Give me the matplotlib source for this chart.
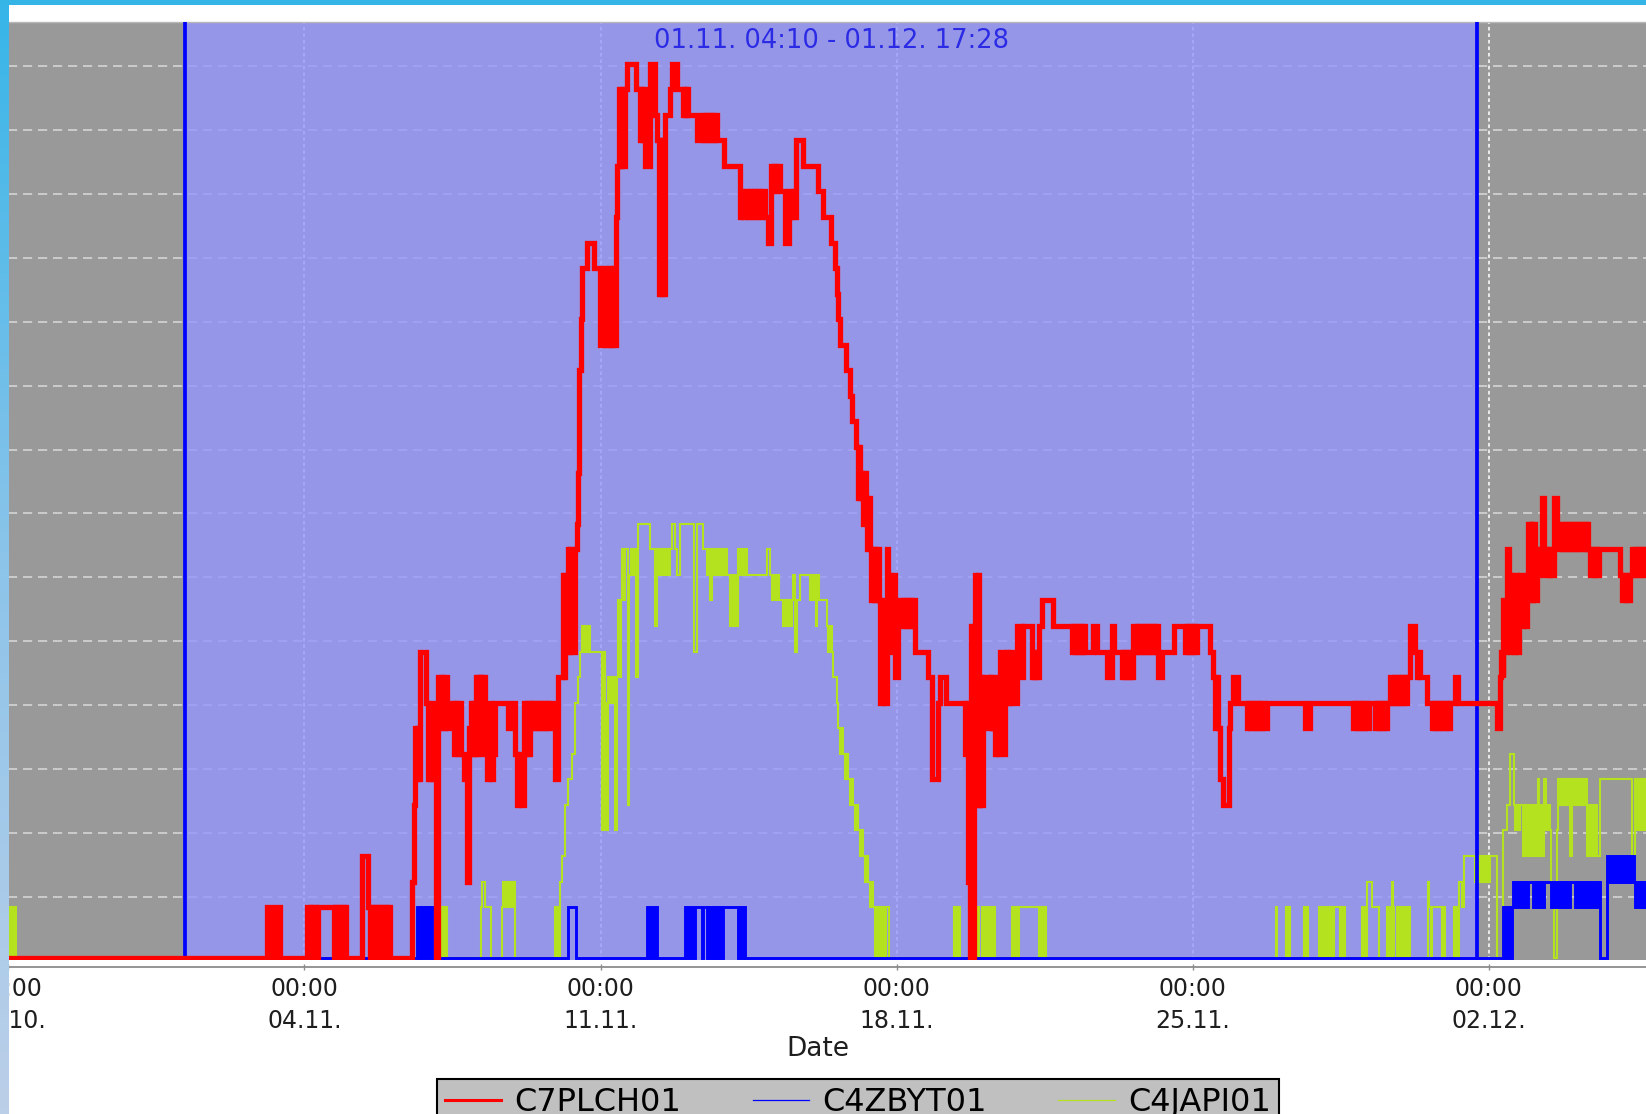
import numpy as np
import matplotlib
matplotlib.use('Agg')
import matplotlib.pyplot as plt
import matplotlib.transforms as mtransforms
from matplotlib.lines import Line2D
from matplotlib.patches import Rectangle
from matplotlib.colors import LinearSegmentedColormap

# time is counted in days from 28.10. 00:00, values are step levels
red_pts = [
    (0.00, 0), (6.11, 2), (6.21, 0), (6.33, 2), (6.43, 0),
    (7.07, 2), (7.11, 0), (7.15, 2), (7.19, 0), (7.23, 2), (7.27, 0), (7.31, 2),
    (7.69, 0), (7.73, 2), (7.77, 0), (7.81, 2), (7.85, 0), (7.89, 2), (7.93, 0), (7.96, 2), (7.99, 0),
    (8.36, 4), (8.51, 2), (8.55, 0), (8.59, 2), (8.63, 0), (8.67, 2), (8.71, 0), (8.75, 2), (8.79, 0),
    (8.83, 2), (8.87, 0), (8.91, 2), (8.95, 0), (8.99, 2), (9.03, 0),
    (9.54, 3), (9.58, 6), (9.62, 9), (9.65, 7), (9.68, 9), (9.71, 7), (9.74, 12), (9.88, 10), (9.92, 7),
    (9.95, 9), (9.98, 7), (10.02, 10), (10.06, 7), (10.10, 0),
    (10.16, 11), (10.20, 9), (10.24, 11), (10.28, 9), (10.32, 11), (10.36, 9), (10.49, 10), (10.53, 8),
    (10.57, 10), (10.61, 8), (10.65, 10), (10.69, 8), (10.78, 7), (10.84, 3), (10.90, 9),
    (10.93, 10), (10.96, 8), (10.99, 10), (11.02, 8), (11.05, 11), (11.08, 8), (11.11, 11), (11.14, 9),
    (11.17, 11), (11.20, 8), (11.23, 11), (11.27, 9), (11.31, 7), (11.36, 10), (11.40, 7), (11.46, 8), (11.51, 10),
    (11.82, 9), (11.94, 10), (11.98, 8), (12.02, 6), (12.08, 8), (12.12, 6), (12.18, 10), (12.22, 8),
    (12.26, 10), (12.30, 8), (12.34, 10), (12.37, 9), (12.41, 10), (12.45, 9), (12.49, 10), (12.53, 9),
    (12.57, 10), (12.61, 9), (12.65, 10), (12.69, 9), (12.73, 10), (12.77, 9), (12.81, 10),
    (12.93, 7), (13.00, 11), (13.11, 15), (13.14, 11), (13.17, 15), (13.20, 12), (13.23, 16), (13.26, 12),
    (13.29, 16), (13.32, 14), (13.35, 12), (13.40, 16), (13.44, 17), (13.46, 19), (13.48, 21), (13.50, 23),
    (13.53, 25), (13.57, 27),
    (13.68, 28), (13.84, 27), (13.99, 24), (14.09, 27), (14.14, 24), (14.19, 27), (14.23, 24), (14.28, 27),
    (14.32, 24), (14.36, 29), (14.40, 31), (14.44, 34), (14.47, 31), (14.50, 34), (14.54, 31), (14.58, 34), (14.62, 35),
    (14.85, 34), (14.93, 32), (14.96, 34), (14.99, 32), (15.02, 34), (15.05, 31), (15.17, 35), (15.30, 33),
    (15.34, 32), (15.38, 26), (15.41, 32), (15.44, 26), (15.47, 32), (15.50, 26), (15.52, 33), (15.64, 34),
    (15.68, 35), (15.80, 34),
    (15.95, 33), (15.98, 34), (16.01, 33), (16.04, 34), (16.08, 33), (16.27, 32), (16.39, 33), (16.43, 32),
    (16.47, 33), (16.51, 32), (16.55, 33), (16.59, 32), (16.63, 33), (16.67, 32), (16.71, 33), (16.75, 32), (16.93, 31),
    (17.29, 29), (17.33, 30), (17.38, 29), (17.43, 30), (17.48, 29), (17.53, 30), (17.58, 29), (17.63, 30),
    (17.68, 29), (17.73, 30), (17.78, 29), (17.83, 30), (17.88, 29), (17.95, 28), (18.02, 31), (18.06, 30),
    (18.10, 31), (18.14, 30), (18.18, 31), (18.24, 30), (18.36, 28), (18.46, 30), (18.50, 29), (18.54, 30),
    (18.58, 29), (18.63, 32), (18.79, 31),
    (19.15, 30), (19.27, 29), (19.45, 28), (19.55, 27), (19.58, 26), (19.62, 25), (19.66, 24), (19.80, 23),
    (19.90, 22), (19.95, 21), (20.05, 20), (20.08, 18), (20.11, 20), (20.14, 18), (20.18, 19), (20.21, 17),
    (20.24, 19), (20.28, 18), (20.31, 16), (20.34, 18),
    (20.37, 16), (20.40, 14), (20.43, 16), (20.46, 14), (20.49, 16), (20.52, 14), (20.55, 16), (20.58, 14),
    (20.61, 10), (20.67, 14), (20.70, 10), (20.77, 16), (20.80, 14), (20.85, 15), (20.88, 12), (20.92, 15),
    (20.96, 11), (21.04, 14),
    (21.12, 13), (21.16, 14), (21.20, 13), (21.24, 14), (21.28, 13), (21.32, 14), (21.36, 13), (21.40, 14),
    (21.44, 12), (21.75, 11), (21.83, 7), (21.99, 10), (22.03, 11), (22.18, 10),
    (22.62, 8), (22.65, 10), (22.68, 3), (22.71, 9), (22.74, 0), (22.77, 13), (22.80, 0), (22.83, 13),
    (22.86, 15), (22.89, 6), (22.92, 15), (22.95, 6), (22.98, 11), (23.01, 6), (23.05, 11),
    (23.17, 9), (23.20, 11), (23.23, 9), (23.26, 11), (23.29, 9), (23.33, 8), (23.37, 11), (23.41, 8),
    (23.45, 12), (23.53, 8), (23.57, 10), (23.60, 12), (23.64, 10), (23.68, 12), (23.72, 10), (23.84, 13),
    (23.96, 11), (24.00, 13), (24.20, 11), (24.23, 12), (24.26, 11), (24.29, 12), (24.32, 11), (24.36, 13),
    (24.43, 14), (24.71, 13),
    (25.14, 12), (25.18, 13), (25.22, 12), (25.26, 13), (25.30, 12), (25.34, 13), (25.38, 12), (25.42, 13),
    (25.46, 12), (25.65, 13), (25.73, 12), (25.97, 11), (26.09, 13), (26.13, 12),
    (26.32, 11), (26.36, 12), (26.40, 11), (26.44, 12), (26.48, 11), (26.52, 12), (26.56, 11), (26.60, 13),
    (26.64, 12), (26.68, 13), (26.72, 12), (26.76, 13), (26.80, 12), (26.84, 13), (26.88, 12), (26.92, 13),
    (26.96, 12), (27.00, 13), (27.04, 12), (27.08, 13), (27.12, 12), (27.16, 13), (27.19, 11), (27.27, 12), (27.55, 13),
    (27.82, 12), (27.86, 13), (27.90, 12), (27.94, 13), (27.98, 12), (28.02, 13), (28.06, 12), (28.10, 13),
    (28.41, 12), (28.48, 11), (28.52, 9), (28.56, 11), (28.60, 9), (28.65, 7), (28.73, 6), (28.85, 9),
    (28.89, 10), (28.96, 11), (29.08, 10),
    (29.28, 9), (29.32, 10), (29.36, 9), (29.40, 10), (29.44, 9), (29.48, 10), (29.52, 9), (29.56, 10),
    (29.60, 9), (29.64, 10), (29.68, 9), (29.75, 10), (30.66, 9), (30.78, 10),
    (31.80, 9), (31.84, 10), (31.88, 9), (31.92, 10), (31.96, 9), (32.00, 10), (32.04, 9), (32.08, 10),
    (32.12, 9), (32.16, 10), (32.32, 9), (32.36, 10), (32.40, 9), (32.44, 10), (32.48, 9), (32.52, 10),
    (32.56, 9), (32.59, 10),
    (32.67, 11), (32.71, 10), (32.75, 11), (32.79, 10), (32.83, 11), (32.87, 10), (32.91, 11), (32.95, 10),
    (32.99, 11), (33.03, 10), (33.07, 11), (33.14, 13), (33.26, 12), (33.30, 11), (33.34, 12), (33.38, 11), (33.54, 10),
    (33.66, 9), (33.70, 10), (33.74, 9), (33.78, 10), (33.82, 9), (33.86, 10), (33.90, 9), (33.94, 10),
    (33.98, 9), (34.02, 10), (34.06, 9), (34.09, 10), (34.21, 11), (34.28, 10), (35.19, 9),
    (35.27, 11), (35.30, 12), (35.33, 11), (35.35, 14), (35.39, 12), (35.43, 16), (35.47, 15), (35.50, 12),
    (35.53, 15), (35.56, 13), (35.59, 12), (35.63, 15), (35.67, 12), (35.71, 15), (35.75, 14), (35.78, 13),
    (35.81, 14), (35.84, 15), (35.88, 13), (35.91, 15),
    (35.94, 17), (35.97, 14), (36.00, 17), (36.03, 14), (36.06, 17), (36.10, 14), (36.14, 16), (36.18, 15),
    (36.22, 16), (36.26, 18), (36.30, 16), (36.34, 15), (36.38, 16), (36.42, 15), (36.46, 16), (36.50, 15), (36.54, 18),
    (36.61, 17), (36.65, 16), (36.69, 17), (36.73, 16), (36.77, 17), (36.81, 16), (36.85, 17), (36.89, 16),
    (36.93, 17), (36.97, 16), (37.01, 17), (37.05, 16), (37.09, 17), (37.13, 16), (37.17, 17), (37.21, 16),
    (37.25, 17), (37.29, 16), (37.33, 17), (37.36, 16),
    (37.40, 15), (37.44, 16), (37.48, 15), (37.52, 16), (37.56, 15), (37.60, 16), (38.11, 15), (38.15, 14),
    (38.19, 15), (38.23, 14), (38.27, 15), (38.31, 14), (38.35, 15), (38.39, 16), (38.43, 15), (38.47, 16),
    (38.51, 15), (38.55, 16), (38.59, 15), (38.63, 16), (38.67, 15), (38.71, 16), (38.75, 15),
]

blue_pts = [
    (0.00, 0),
    (9.66, 2), (9.70, 0), (9.73, 2), (9.76, 0), (9.79, 2), (9.83, 0), (9.86, 2), (9.90, 0), (9.93, 2),
    (9.97, 0), (10.00, 2), (10.05, 0),
    (13.24, 2), (13.42, 0),
    (15.09, 2), (15.13, 0), (15.17, 2), (15.21, 0), (15.25, 2), (15.29, 0), (15.31, 2), (15.33, 0),
    (16.00, 2), (16.04, 0), (16.08, 2), (16.12, 0), (16.16, 2), (16.20, 0), (16.23, 2), (16.40, 0),
    (16.43, 2), (16.51, 0), (16.54, 2), (16.57, 0), (16.60, 2), (16.63, 0), (16.66, 2), (16.69, 0),
    (16.72, 2), (16.75, 0), (16.78, 2), (16.81, 0), (16.84, 2), (16.87, 0), (16.90, 2), (17.26, 0),
    (17.30, 2), (17.34, 0), (17.38, 2), (17.42, 0),
    (35.35, 2), (35.38, 0), (35.41, 2), (35.45, 0), (35.48, 2), (35.52, 0), (35.55, 2), (35.58, 3),
    (35.61, 2), (35.64, 3), (35.67, 2), (35.70, 3), (35.73, 2), (35.76, 3), (35.79, 2), (35.82, 3),
    (35.85, 2), (35.88, 3), (35.91, 2), (35.94, 3), (36.05, 2), (36.08, 3), (36.11, 2), (36.14, 3),
    (36.17, 2), (36.20, 3), (36.23, 2), (36.26, 3), (36.29, 2), (36.32, 3), (36.47, 2), (36.50, 3),
    (36.53, 2), (36.56, 3), (36.59, 2), (36.62, 3), (36.65, 2), (36.68, 3), (36.71, 2), (36.74, 3),
    (36.77, 2), (36.80, 3), (36.83, 2), (36.86, 3), (36.89, 2), (36.92, 3), (37.03, 2), (37.06, 3),
    (37.09, 2), (37.12, 3), (37.15, 2), (37.18, 3), (37.21, 2), (37.24, 3), (37.27, 2), (37.30, 3),
    (37.33, 2), (37.36, 3), (37.39, 2), (37.42, 3), (37.45, 2), (37.48, 3), (37.51, 2), (37.54, 3),
    (37.57, 2), (37.60, 3), (37.64, 0),
    (37.80, 4), (37.83, 3), (37.86, 4), (37.89, 3), (37.92, 4), (37.95, 3), (37.98, 4), (38.01, 3),
    (38.04, 4), (38.07, 3), (38.10, 4), (38.13, 3), (38.16, 4), (38.19, 3), (38.22, 4), (38.25, 3),
    (38.28, 4), (38.31, 3), (38.34, 4), (38.37, 3), (38.40, 4), (38.43, 3), (38.46, 2), (38.49, 3),
    (38.52, 2), (38.55, 3), (38.58, 2), (38.61, 3), (38.64, 2), (38.67, 3), (38.70, 2), (38.75, 3),
]

green_pts = [
    (0.00, 0), (0.03, 2), (0.06, 0), (0.09, 2), (0.12, 0), (0.14, 2), (0.17, 0),
    (10.21, 2), (10.24, 0), (10.27, 2), (10.30, 0), (10.33, 2), (10.36, 0),
    (11.17, 2), (11.20, 3), (11.26, 2), (11.42, 0),
    (11.66, 2), (11.70, 3), (11.74, 2), (11.78, 3), (11.82, 2), (11.86, 3), (11.90, 2), (11.94, 3), (11.98, 0),
    (12.92, 2), (12.95, 0), (12.98, 2), (13.01, 0), (13.04, 3), (13.10, 4), (13.16, 6), (13.24, 7),
    (13.32, 8), (13.40, 10), (13.46, 11), (13.52, 12),
    (13.56, 13), (13.60, 12), (13.64, 13), (13.68, 12), (13.72, 13), (13.75, 12),
    (14.03, 5), (14.08, 12), (14.11, 10), (14.14, 5), (14.17, 11), (14.20, 10), (14.23, 11), (14.26, 10),
    (14.30, 11), (14.34, 5), (14.38, 11),
    (14.42, 14), (14.45, 11), (14.48, 14), (14.51, 16), (14.55, 14), (14.58, 16), (14.64, 6), (14.68, 15),
    (14.72, 16), (14.76, 15), (14.80, 16), (14.84, 11), (14.88, 17),
    (15.17, 16), (15.29, 13), (15.33, 16), (15.37, 15), (15.41, 16), (15.45, 15), (15.49, 16), (15.53, 15),
    (15.57, 16), (15.61, 15), (15.65, 16), (15.68, 17), (15.75, 16), (15.80, 15), (15.88, 17),
    (16.20, 12), (16.27, 17), (16.43, 16), (16.51, 15), (16.55, 16), (16.59, 14), (16.63, 16), (16.67, 15),
    (16.71, 16), (16.75, 15), (16.79, 16), (16.83, 15), (16.87, 16), (16.91, 15), (16.95, 16), (17.00, 15),
    (17.06, 13), (17.10, 15), (17.14, 13), (17.18, 15), (17.22, 13), (17.26, 16), (17.30, 15), (17.34, 16),
    (17.38, 15), (17.42, 16), (17.46, 15), (17.93, 16), (18.01, 15),
    (18.05, 14), (18.09, 15), (18.13, 14), (18.17, 15), (18.21, 14), (18.32, 13), (18.36, 14), (18.40, 13),
    (18.44, 14), (18.48, 13), (18.52, 14), (18.56, 15), (18.60, 12), (18.64, 14), (18.71, 15),
    (18.95, 14), (18.99, 15), (19.03, 14), (19.07, 15), (19.09, 13), (19.13, 15), (19.17, 14), (19.35, 13),
    (19.39, 12), (19.43, 13), (19.47, 12), (19.50, 11),
    (19.58, 10), (19.62, 9), (19.66, 8), (19.70, 9), (19.74, 8), (19.78, 7), (19.82, 8), (19.86, 7),
    (19.90, 6), (19.94, 7), (19.98, 6), (20.02, 5), (20.06, 6), (20.10, 5), (20.14, 4), (20.18, 5),
    (20.21, 4), (20.25, 3), (20.29, 4), (20.33, 3), (20.37, 2), (20.41, 3), (20.45, 2),
    (20.49, 0), (20.52, 2), (20.56, 0), (20.60, 2), (20.64, 0), (20.68, 2), (20.72, 0), (20.76, 2), (20.81, 0),
    (22.35, 2), (22.38, 0), (22.41, 2), (22.44, 0), (22.47, 2), (22.49, 0),
    (22.86, 2), (22.89, 0), (22.92, 2), (22.95, 0), (23.01, 2), (23.04, 0), (23.07, 2), (23.10, 0),
    (23.13, 2), (23.16, 0), (23.19, 2), (23.22, 0), (23.25, 2), (23.28, 0), (23.31, 2), (23.33, 0),
    (23.72, 2), (23.75, 0), (23.78, 2), (23.81, 0), (23.84, 2), (23.87, 0), (23.90, 2), (24.36, 0),
    (24.39, 2), (24.42, 0), (24.45, 2), (24.49, 0), (24.52, 2), (24.54, 0),
    (29.97, 2), (30.00, 0), (30.20, 2), (30.23, 0), (30.26, 2), (30.30, 0), (30.64, 2), (30.68, 0),
    (30.70, 2), (30.73, 0),
    (30.98, 2), (31.01, 0), (31.04, 2), (31.07, 0), (31.10, 2), (31.13, 0), (31.16, 2), (31.19, 0),
    (31.22, 2), (31.25, 0), (31.28, 2), (31.31, 0), (31.34, 2), (31.49, 0), (31.52, 2), (31.55, 0),
    (31.58, 2), (31.61, 0),
    (32.00, 2), (32.03, 0), (32.06, 2), (32.09, 0), (32.12, 3), (32.24, 2), (32.40, 0),
    (32.59, 2), (32.62, 0), (32.65, 2), (32.68, 0), (32.71, 3), (32.74, 2), (32.77, 0), (32.84, 2),
    (32.87, 0), (32.90, 2), (32.93, 0), (32.98, 2), (33.01, 0), (33.04, 2), (33.07, 0), (33.11, 2), (33.14, 0),
    (33.56, 3), (33.60, 2), (33.63, 0), (33.66, 2), (33.90, 0), (33.93, 2), (33.96, 0),
    (34.18, 2), (34.21, 0), (34.24, 2), (34.27, 0), (34.30, 3), (34.37, 2), (34.41, 4), (34.68, 3),
    (34.72, 4), (34.76, 3), (34.80, 4), (34.84, 3), (34.88, 4), (34.92, 3), (34.96, 4), (34.99, 3),
    (35.03, 4), (35.19, 0),
    (35.35, 5), (35.43, 6), (35.51, 8), (35.59, 6), (35.63, 5), (35.67, 6), (35.71, 5), (35.75, 6),
    (35.80, 4), (35.84, 6), (35.88, 4), (35.92, 6), (35.96, 4), (36.00, 6), (36.04, 4), (36.08, 6),
    (36.12, 4), (36.16, 7), (36.20, 4), (36.24, 6), (36.28, 4), (36.32, 7), (36.36, 5), (36.40, 6),
    (36.44, 5), (36.48, 2), (36.54, 0),
    (36.61, 5), (36.65, 7), (36.69, 6), (36.73, 7), (36.77, 6), (36.81, 7), (36.85, 6), (36.89, 7),
    (36.93, 4), (36.97, 7), (37.01, 6), (37.05, 7), (37.09, 6), (37.13, 7), (37.17, 6), (37.21, 7),
    (37.25, 6), (37.29, 7), (37.33, 4), (37.37, 6), (37.41, 4), (37.45, 6), (37.49, 4), (37.53, 6),
    (37.57, 4), (37.64, 7), (38.39, 4), (38.47, 7), (38.51, 5), (38.55, 7), (38.59, 5), (38.63, 7),
    (38.67, 5), (38.71, 7), (38.75, 5),
]

series_names = ['C7PLCH01', 'C4ZBYT01', 'C4JAPI01']
series_colors = ['#ff0000', '#0000ff', '#b4e21e']

tick_days = [0, 7, 14, 21, 28, 35]
tick_times = ['00:00', '00:00', '00:00', '00:00', '00:00', '00:00']
tick_dates = ['28.10.', '04.11.', '11.11.', '18.11.', '25.11.', '02.12.']

interval_start = 4 + 4 / 24 + 10 / 1440     # 01.11. 04:10
interval_end = 34 + 17 / 24 + 28 / 1440      # 01.12. 17:28
interval_label = '01.11. 04:10 - 01.12. 17:28'
x_end = 38.72

plt.rcParams['font.family'] = 'DejaVu Sans'

W, H = 1646, 1114
fig = plt.figure(figsize=(W / 100, H / 100), dpi=100)
fig.patch.set_facecolor('white')

# plot area (pixel layout of the screenshot)
ax = fig.add_axes([8.4 / W, (H - 959.5) / H, 1 - 8.4 / W, 937.5 / H])
ax.set_facecolor('#999999')
ax.set_xlim(0, x_end)
ax.set_ylim(-0.05, 36.63)

# grid lines sit under the interval marker
ax.set_axisbelow(True)
ax.set_yticks([2.4 + 2.5 * k for k in range(14)])
ax.tick_params(axis='y', left=False, labelleft=False)
ax.grid(axis='y', color='#d4d4d4', lw=1.2, ls=(0, (5.5, 3.5)))
ax.grid(axis='x', color='#f2f2f2', lw=1.3, ls=(0, (2, 1.6)))

ax.axvspan(interval_start, interval_end, color=(150 / 255, 150 / 255, 253 / 255),
           alpha=0.8, lw=0, zorder=1)
for xv in (interval_start, interval_end):
    ax.axvline(xv, color='#0000ff', lw=2.7, zorder=3.5)

# series, red drawn on top
for pts, color, lw, z in [(green_pts, series_colors[2], 1.5, 2),
                          (blue_pts, series_colors[1], 2.1, 3),
                          (red_pts, series_colors[0], 3.8, 4)]:
    t, v = zip(*pts)
    ax.plot(t, v, drawstyle='steps-post', color=color, lw=lw, zorder=z,
            solid_joinstyle='miter')

trans = mtransforms.blended_transform_factory(ax.transData, ax.transAxes)
ax.text((interval_start + interval_end) / 2, (959.5 - 41) / 937.5, interval_label,
        transform=trans, ha='center', va='center', fontsize=18.5, color='#2b2be6', zorder=6)

# axes frame
ax.spines['left'].set_visible(False)
ax.spines['right'].set_visible(False)
ax.spines['top'].set_color('#b8b8b8')
ax.spines['top'].set_linewidth(1.0)
ax.spines['bottom'].set_position(('outward', 5.4))
ax.spines['bottom'].set_color('#8c8c8c')
ax.spines['bottom'].set_linewidth(1.3)

ax.set_xticks(tick_days, labels=[f'{tm}\n{d}' for tm, d in zip(tick_times, tick_dates)],
              fontsize=17, linespacing=1.4, color='#1e1e1e')
ax.tick_params(axis='x', direction='inout', length=5, width=1, color='#8c8c8c', pad=5.0)

fig.text(818 / W, 1 - 1049 / H, 'Date', ha='center', va='center', fontsize=19, color='#1e1e1e')

handles = [Line2D([], [], color=series_colors[0], lw=2.2),
           Line2D([], [], color=series_colors[1], lw=0.9),
           Line2D([], [], color=series_colors[2], lw=0.9)]
leg = fig.legend(handles, series_names, loc='upper left',
                 bbox_to_anchor=(436.7 / W, 1 - 1079 / H), ncol=3, fontsize=23,
                 frameon=True, fancybox=False, facecolor='#c0c0c0', edgecolor='black',
                 framealpha=1, borderpad=0.25, handlelength=1.77, handletextpad=0.4,
                 columnspacing=2.25, borderaxespad=0)
leg.get_frame().set_linewidth(1.5)

# window border bits of the screenshot
fig.add_artist(Rectangle((0, 1 - 5 / H), 1, 5 / H, transform=fig.transFigure,
                         facecolor='#35b5e5', edgecolor='none', zorder=10))
sax = fig.add_axes([0, 0, 9 / W, 1])
sax.imshow(np.linspace(0, 1, 256).reshape(-1, 1), aspect='auto',
           cmap=LinearSegmentedColormap.from_list('edge', ['#36b5e8', '#8cc4ea', '#bccfe8']))
sax.axis('off')
sax.set_zorder(5)

fig.savefig('out.png', dpi=100)
